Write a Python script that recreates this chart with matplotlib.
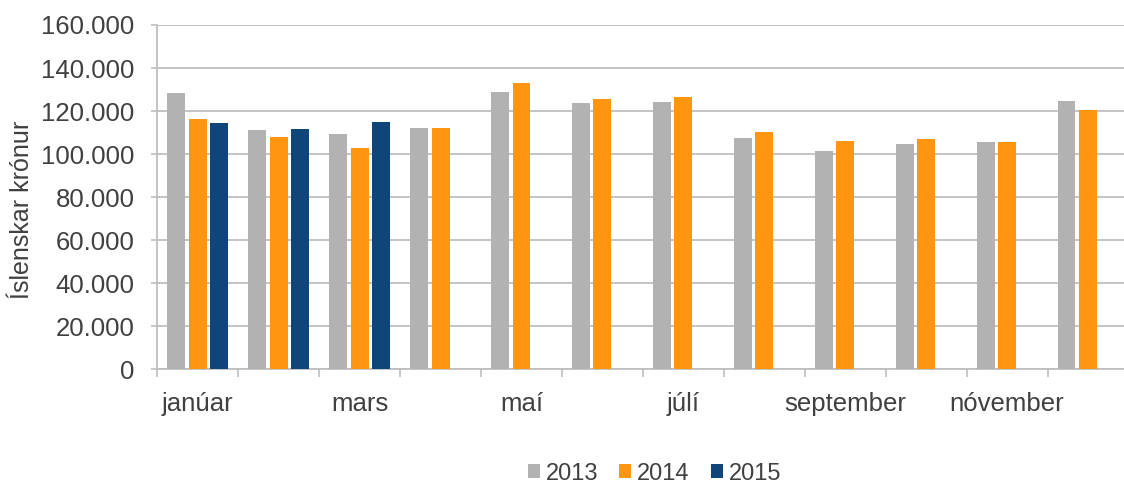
import matplotlib
matplotlib.use("Agg")
import matplotlib.pyplot as plt
from matplotlib.patches import Patch
import numpy as np

months = ["janúar", "febrúar", "mars", "apríl", "maí", "júní", "júlí",
          "ágúst", "september", "október", "nóvember", "desember"]
years = ["2013", "2014", "2015"]
v2013 = [128500, 111200, 109200, 112300, 129000, 123600, 124100, 107600, 101300, 104700, 105500, 124500]
v2014 = [116300, 107900, 102800, 112000, 133200, 125500, 126400, 110300, 106100, 107000, 105800, 120600]
v2015 = [114400, 111700, 115100]
colors = ["#B2B2B2", "#FF9511", "#10457A"]
yticks = [0, 20000, 40000, 60000, 80000, 100000, 120000, 140000, 160000]

plt.rcParams['font.family'] = ['Liberation Sans', 'DejaVu Sans']
TXT = "#404040"
W, H = 1124, 484
fig = plt.figure(figsize=(W / 100, H / 100), dpi=100)
left, right, top, bottom = 157.3, 1128.5, 25.0, 369.3
ax = fig.add_axes([left / W, 1 - bottom / H, (right - left) / W, (bottom - top) / H])

x = np.arange(len(months))
slot = 0.266
bw = 0.222
series = [v2013, v2014, v2015]
for i, (vals, c) in enumerate(zip(series, colors)):
    xs = x[:len(vals)] + (i - 1) * slot
    ax.bar(xs, vals, width=bw, color=c, zorder=3)

ax.set_xlim(-0.5, len(months) - 0.5)
ax.set_ylim(0, 160000)
ax.set_yticks(yticks)
ax.set_yticklabels([f"{v:,}".replace(",", ".") for v in yticks], fontsize=18.5, color=TXT)
ax.yaxis.grid(True, color="#BFBFBF", linewidth=1.3, zorder=0)
ax.set_axisbelow(True)

ax.set_xticks(np.arange(-0.5, len(months) + 0.5, 1.0))
ax.set_xticklabels([])
ax.set_xticks(x[::2], minor=True)
ax.set_xticklabels(months[::2], minor=True, fontsize=18.5, color=TXT)
ax.tick_params(axis='x', which='major', length=6, width=1.2, color="#BFBFBF")
ax.tick_params(axis='x', which='minor', length=0, pad=16)
ax.tick_params(axis='y', length=4.5, width=1.2, color="#BFBFBF", pad=12)

for s in ["top", "right"]:
    ax.spines[s].set_visible(False)
for s in ["left", "bottom"]:
    ax.spines[s].set_color("#BFBFBF")
    ax.spines[s].set_linewidth(1.3)

fig.text(22 / W, 1 - 210 / H, "Íslenskar krónur", rotation=90, fontsize=18,
         color=TXT, ha="center", va="center")

handles = [Patch(facecolor=c, edgecolor="none") for c in colors]
leg = fig.legend(handles, years, loc="center", bbox_to_anchor=(654.5 / W, 1 - 473.5 / H),
                 ncol=3, frameon=False, fontsize=17, handlelength=0.5, handleheight=0.5,
                 handletextpad=0.25, columnspacing=0.9, borderpad=0, borderaxespad=0)
for t in leg.get_texts():
    t.set_color(TXT)

fig.savefig("out.png", dpi=100)
